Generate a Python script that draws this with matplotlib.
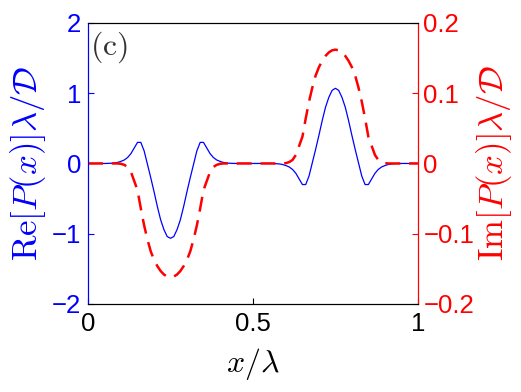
import numpy as np
import matplotlib
matplotlib.use('Agg')
import matplotlib.pyplot as plt

plt.rcParams['font.family'] = ['Liberation Sans', 'DejaVu Sans']
plt.rcParams['mathtext.fontset'] = 'cm'

# sample positions x/lambda
x = np.linspace(0, 1, 101)

# Re[P(x)] lambda/D
re_p = [0, 0, 0, 0, 0, 0, 0.001, 0.003, 0.007, 0.015,
        0.03, 0.05, 0.085, 0.14, 0.22, 0.30, 0.30, 0.18, -0.01, -0.20,
        -0.40, -0.61, -0.80, -0.94, -1.04, -1.065, -1.04, -0.94, -0.80, -0.61,
        -0.40, -0.20, -0.01, 0.18, 0.30, 0.30, 0.22, 0.14, 0.085, 0.05,
        0.03, 0.015, 0.007, 0.003, 0.001, 0, 0, 0, 0, 0,
        0, 0, 0, 0, 0, 0, -0.001, -0.003, -0.007, -0.015,
        -0.03, -0.05, -0.085, -0.14, -0.22, -0.30, -0.30, -0.18, 0.01, 0.20,
        0.40, 0.61, 0.80, 0.94, 1.04, 1.07, 1.04, 0.94, 0.80, 0.61,
        0.40, 0.20, 0.01, -0.18, -0.30, -0.30, -0.22, -0.14, -0.085, -0.05,
        -0.03, -0.015, -0.007, -0.003, -0.001, 0, 0, 0, 0, 0,
        0]

# Im[P(x)] lambda/D
im_p = [0, 0, 0, 0, 0, 0, 0, 0, 0, 0,
        -0.0005, -0.002, -0.005, -0.012, -0.025, -0.038, -0.064, -0.088, -0.108, -0.125,
        -0.137, -0.146, -0.153, -0.158, -0.161, -0.162, -0.161, -0.158, -0.153, -0.146,
        -0.137, -0.125, -0.108, -0.088, -0.064, -0.038, -0.025, -0.012, -0.005, -0.002,
        -0.0005, 0, 0, 0, 0, 0, 0, 0, 0, 0,
        0, 0, 0, 0, 0, 0, 0, 0, 0, 0,
        0.0005, 0.002, 0.005, 0.012, 0.025, 0.038, 0.064, 0.088, 0.108, 0.125,
        0.137, 0.146, 0.153, 0.158, 0.161, 0.162, 0.161, 0.158, 0.153, 0.146,
        0.137, 0.125, 0.108, 0.088, 0.064, 0.038, 0.025, 0.012, 0.005, 0.002,
        0.0005, 0, 0, 0, 0, 0, 0, 0, 0, 0,
        0]

fig = plt.figure(figsize=(5.21, 3.92), dpi=100)
ax = fig.add_axes([0.169, 0.2245, 0.633, 0.717])
ax2 = ax.twinx()

ax.plot(x, re_p, color='blue', lw=0.9)
ax2.plot(x, im_p, color='red', lw=1.8, dashes=(6, 3.5))

ax.set_xlim(0, 1)
ax.set_ylim(-2, 2)
ax2.set_ylim(-0.2, 0.2)
ax.set_xticks([0, 0.5, 1])
ax.set_xticklabels(['0', '0.5', '1'])
ax.set_yticks([-2, -1, 0, 1, 2])
ax.set_yticklabels(['\u22122', '\u22121', '0', '1', '2'])
ax2.set_yticks([-0.2, -0.1, 0, 0.1, 0.2])
ax2.set_yticklabels(['\u22120.2', '\u22120.1', '0', '0.1', '0.2'])

ax.tick_params(axis='x', direction='in', length=4, labelsize=18.5, pad=6, colors='black')
ax.tick_params(axis='y', direction='in', length=4, labelsize=18.5, pad=5, colors='blue')
ax2.tick_params(axis='y', direction='in', length=4, labelsize=18.5, pad=4, colors='red')

for a in (ax, ax2):
    a.spines['top'].set_color('black')
    a.spines['bottom'].set_color('black')
    a.spines['left'].set_color('blue')
    a.spines['right'].set_color('red')

ax.set_xlabel(r'$x/\lambda$', fontsize=23, labelpad=7)
ax.set_ylabel(r'$\mathrm{Re}[P(x)]\lambda/\mathcal{D}$', fontsize=25, color='blue', labelpad=3)
ax2.set_ylabel(r'$\mathrm{Im}[P(x)]\lambda/\mathcal{D}$', fontsize=25, color='red', labelpad=0)

ax.text(0.006, 0.975, r'$\mathrm{(c)}$', transform=ax.transAxes, fontsize=23,
        color='#333333', ha='left', va='top')

fig.savefig('out.png', dpi=100)
